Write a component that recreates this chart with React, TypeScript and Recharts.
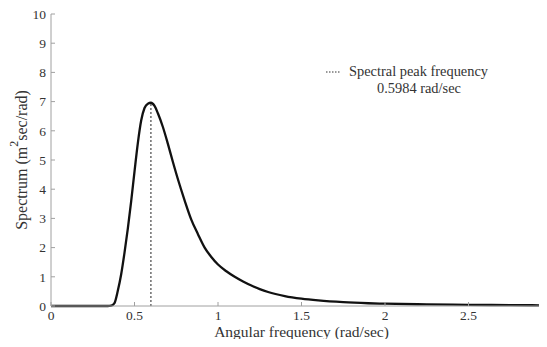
import { LineChart, Line, XAxis, YAxis, ReferenceLine } from "recharts";

// #region Sample data
const freq = [
  0, 0.1, 0.2, 0.3, 0.34, 0.36, 0.38, 0.4, 0.42, 0.44, 0.46, 0.48, 0.5, 0.52,
  0.54, 0.56, 0.58, 0.5984, 0.62, 0.64, 0.67, 0.7, 0.73, 0.76, 0.8, 0.84, 0.88,
  0.92, 0.96, 1.0, 1.05, 1.1, 1.15, 1.2, 1.25, 1.3, 1.4, 1.5, 1.6, 1.75, 1.9,
  2.0, 2.25, 2.5, 2.75, 3.0,
];
const spectrum = [
  0, 0, 0, 0, 0, 0.01, 0.1, 0.52, 1.08, 1.82, 2.65, 3.58, 4.6, 5.58, 6.35,
  6.78, 6.93, 6.96, 6.85, 6.6, 6.13, 5.55, 4.93, 4.34, 3.62, 2.96, 2.46, 2.0,
  1.68, 1.42, 1.19, 1.0, 0.84, 0.7, 0.58, 0.48, 0.34, 0.25, 0.19, 0.13, 0.095,
  0.08, 0.055, 0.04, 0.03, 0.022,
];
const peakFreq = 0.5984;
const peakValue = 6.96;
const xTicks = [0, 0.5, 1, 1.5, 2, 2.5];
const yTicks = [0, 1, 2, 3, 4, 5, 6, 7, 8, 9, 10];
// #endregion

const data = freq.map((f, i) => ({ f, s: spectrum[i] }));

const font = "'Liberation Serif', 'Times New Roman', serif";
const textColor = "#333";
const axisColor = "#a0a0a0";

const YLabel = (props: any) => {
  const vb = props.viewBox || {};
  const cx = 21;
  const cy = vb.y !== undefined ? vb.y + vb.height / 2 : 160;
  return (
    <text
      x={cx}
      y={cy}
      transform={`rotate(-90 ${cx} ${cy})`}
      textAnchor="middle"
      dominantBaseline="central"
      fontFamily={font}
      fontSize={16}
      fill={textColor}
    >
      Spectrum (m
      <tspan dy={-7} fontSize={12}>
        2
      </tspan>
      <tspan dy={7}>sec/rad)</tspan>
    </text>
  );
};

// legend box sits over the plot, outside the chart layout
const PeakLegend = () => (
  <div
    style={{
      position: "absolute",
      top: 63,
      left: 325,
      fontFamily: font,
      fontSize: 14.4,
      color: textColor,
      lineHeight: "17px",
    }}
  >
    <div style={{ display: "flex", alignItems: "center" }}>
      <svg width={20} height={4} style={{ marginRight: 4 }}>
        <line x1={1} y1={2} x2={16} y2={2} stroke="#333" strokeWidth={1} strokeDasharray="1.5 1.5" />
      </svg>
      <span>Spectral peak frequency</span>
    </div>
    <div style={{ paddingLeft: 52 }}>{peakFreq} rad/sec</div>
  </div>
);

const App = () => {
  return (
    <div
      style={{
        position: "relative",
        margin: -8,
        width: 547,
        height: 347,
        overflow: "hidden",
        background: "#fff",
      }}
    >
      <LineChart
        width={560}
        height={347}
        data={data}
        margin={{ top: 14, right: 8, left: 11, bottom: 11 }}
      >
        <XAxis
          dataKey="f"
          type="number"
          domain={[0, 3]}
          ticks={xTicks}
          allowDataOverflow
          stroke={axisColor}
          tickSize={-4}
          tickMargin={8}
          height={30}
          tick={{ fill: textColor, fontFamily: font, fontSize: 13.5 }}
          label={{
            value: "Angular frequency (rad/sec)",
            position: "insideBottom",
            offset: -1,
            fill: textColor,
            fontFamily: font,
            fontSize: 15.5,
          }}
        />
        <YAxis
          type="number"
          domain={[0, 10]}
          ticks={yTicks}
          stroke={axisColor}
          tickSize={-4}
          tickMargin={9}
          width={40}
          tick={{ fill: textColor, fontFamily: font, fontSize: 13.5 }}
          label={<YLabel />}
        />
        <ReferenceLine
          segment={[
            { x: peakFreq, y: 0 },
            { x: peakFreq, y: peakValue },
          ]}
          stroke="#222"
          strokeWidth={1}
          strokeDasharray="2 2"
        />
        <Line
          type="monotone"
          dataKey="s"
          stroke="#111"
          strokeWidth={2.3}
          dot={false}
          isAnimationActive={false}
        />
      </LineChart>
      <PeakLegend />
    </div>
  );
};

export default App;
